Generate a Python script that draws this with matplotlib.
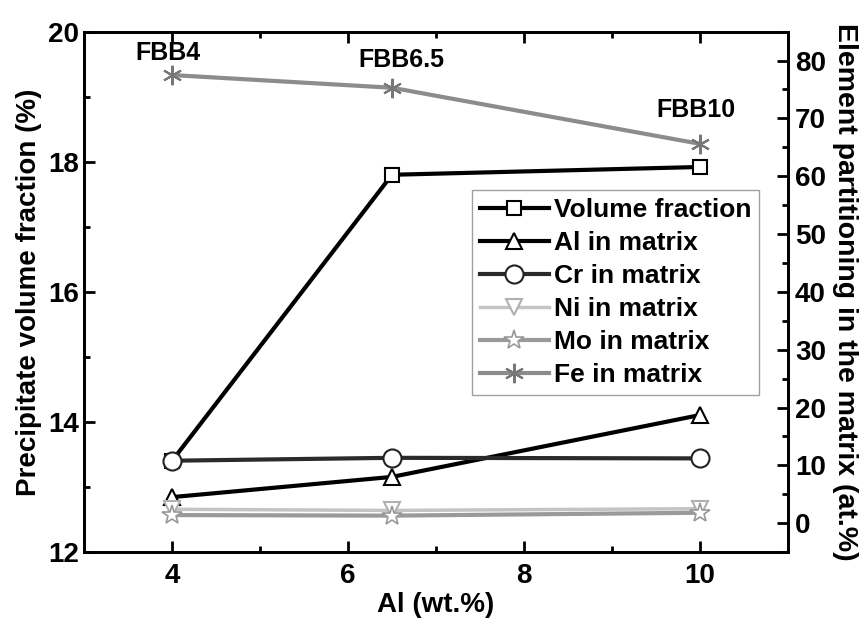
import matplotlib.pyplot as plt
from matplotlib.ticker import MultipleLocator

plt.rcParams['font.family'] = ['Liberation Sans', 'DejaVu Sans']
plt.rcParams['font.weight'] = 'bold'

al = [4, 6.5, 10]
labels = ['FBB4', 'FBB6.5', 'FBB10']

vol_frac = [13.4, 17.8, 17.92]
al_matrix = [4.5, 8.0, 18.7]
cr_matrix = [10.8, 11.3, 11.2]
ni_matrix = [2.4, 2.2, 2.5]
mo_matrix = [1.4, 1.3, 1.8]
fe_matrix = [77.5, 75.3, 65.6]

fig = plt.figure(figsize=(8.65, 6.21), dpi=100)
ax = fig.add_axes([0.097, 0.111, 0.814, 0.838])
ax2 = ax.twinx()

lw = 3
ms = 11
l1, = ax.plot(al, vol_frac, color='black', lw=lw, marker='s', ms=ms - 1,
              mfc='white', mec='black', mew=1.5, label='Volume fraction')
l2, = ax2.plot(al, al_matrix, color='black', lw=lw, marker='^', ms=ms + 1,
               mfc='white', mec='black', mew=1.5, label='Al in matrix')
l3, = ax2.plot(al, cr_matrix, color='#2a2a2a', lw=lw, marker='o', ms=ms + 2,
               mfc='white', mec='#222222', mew=1.5, label='Cr in matrix')
l4, = ax2.plot(al, ni_matrix, color='#c4c4c4', lw=lw - 0.5, marker='v', ms=ms + 1,
               mfc='white', mec='#b0b0b0', mew=1.5, label='Ni in matrix')
l5, = ax2.plot(al, mo_matrix, color='#9a9a9a', lw=lw, marker='*', ms=ms + 4,
               mfc='white', mec='#999999', mew=1.2, label='Mo in matrix')
l6, = ax2.plot(al, fe_matrix, color='#8c8c8c', lw=lw, marker=(6, 2, 0), ms=ms + 3,
               mec='#777777', mew=1.5, label='Fe in matrix')

# sample names sit above the Fe points
offsets = {'FBB4': (-3, 7), 'FBB6.5': (7, 11), 'FBB10': (-3, 16)}
for x, y, t in zip(al, fe_matrix, labels):
    ax2.annotate(t, (x, y), xytext=offsets[t], textcoords='offset points',
                 ha='center', va='bottom', fontsize=18, fontweight='bold')

ax.set_xlim(3, 11)
ax.set_ylim(12, 20)
ax2.set_ylim(-5, 85)
ax.xaxis.set_major_locator(MultipleLocator(2))
ax.xaxis.set_minor_locator(MultipleLocator(1))
ax.yaxis.set_major_locator(MultipleLocator(2))
ax.yaxis.set_minor_locator(MultipleLocator(1))
ax2.yaxis.set_minor_locator(MultipleLocator(5))
ax2.set_yticks(range(0, 81, 10))

for a in (ax, ax2):
    a.tick_params(which='both', direction='in', labelsize=20, width=2)
    a.tick_params(which='major', length=8)
    a.tick_params(which='minor', length=4)
    for s in a.spines.values():
        s.set_linewidth(2)
    for lab in a.get_xticklabels() + a.get_yticklabels():
        lab.set_fontweight('bold')
ax.tick_params(which='both', top=True, right=False)
ax.tick_params(axis='x', pad=8)
ax2.tick_params(axis='y', pad=5)

ax.set_xlabel('Al (wt.%)', fontsize=20, fontweight='bold', labelpad=2)
ax.set_ylabel('Precipitate volume fraction (%)', fontsize=20, fontweight='bold',
              labelpad=4)
ax2.set_ylabel('Element partitioning in the matrix (at.%)', fontsize=20.5,
               fontweight='bold', rotation=270, labelpad=23)

leg = ax2.legend(handles=[l1, l2, l3, l4, l5, l6], loc='upper left',
                 bbox_to_anchor=(472 / 865, 1 - 190 / 621),
                 bbox_transform=fig.transFigure,
                 fontsize=19, frameon=True, fancybox=False, handlelength=2.6,
                 handletextpad=0.2, borderpad=0.3, labelspacing=0.34,
                 borderaxespad=0)
leg.get_frame().set_edgecolor('#888888')
leg.get_frame().set_linewidth(1)
for t in leg.get_texts():
    t.set_fontweight('bold')

fig.savefig('out.png', dpi=100)
